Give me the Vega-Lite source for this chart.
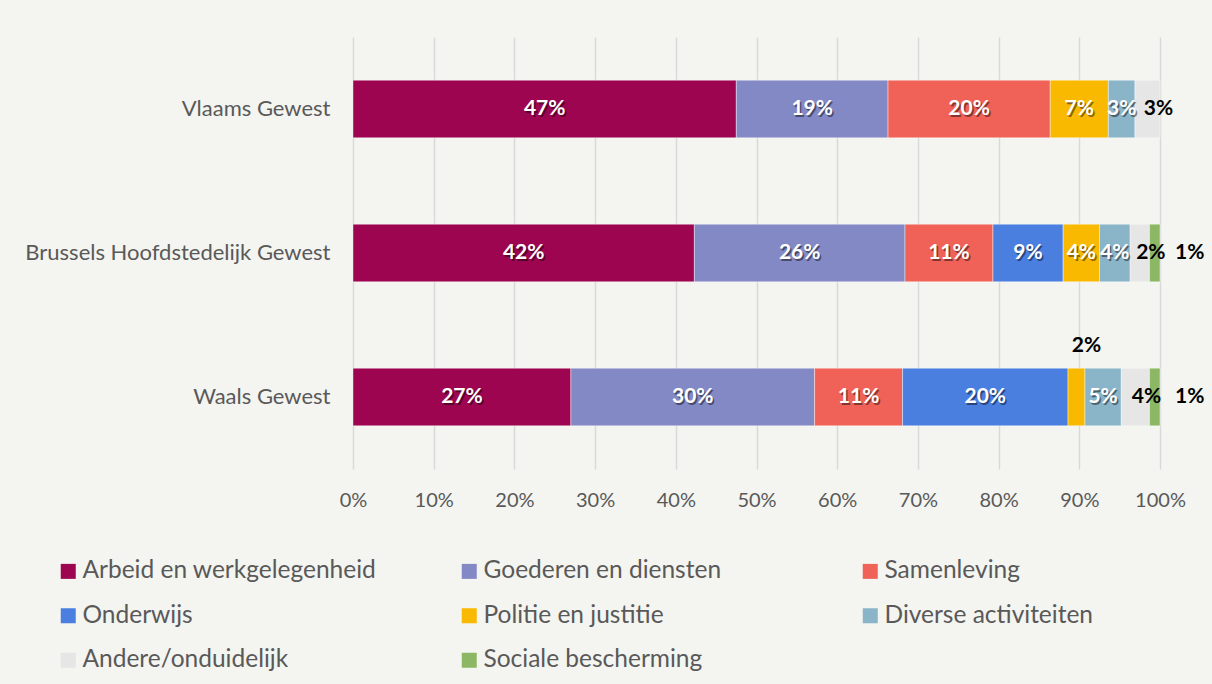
{
  "$schema": "https://vega.github.io/schema/vega-lite/v6.json",
  "width": 807,
  "height": 432,
  "autosize": {"type": "none"},
  "padding": {"left": 353, "top": 37, "right": 52, "bottom": 215},
  "background": "#f4f4f0",
  "config": {"view": {"stroke": null}, "font": "Lato"},
  "data": {
    "values": [
      {"region": "Vlaams Gewest", "cat": "Arbeid en werkgelegenheid", "k": 1, "value": 47.5, "label": "47%"},
      {"region": "Vlaams Gewest", "cat": "Goederen en diensten", "k": 2, "value": 18.8, "label": "19%"},
      {"region": "Vlaams Gewest", "cat": "Samenleving", "k": 3, "value": 20.1, "label": "20%"},
      {"region": "Vlaams Gewest", "cat": "Politie en justitie", "k": 5, "value": 7.2, "label": "7%"},
      {"region": "Vlaams Gewest", "cat": "Diverse activiteiten", "k": 6, "value": 3.3, "label": "3%"},
      {"region": "Vlaams Gewest", "cat": "Andere/onduidelijk", "k": 7, "value": 3.1, "label": "3%"},
      {"region": "Brussels Hoofdstedelijk Gewest", "cat": "Arbeid en werkgelegenheid", "k": 1, "value": 42.3, "label": "42%"},
      {"region": "Brussels Hoofdstedelijk Gewest", "cat": "Goederen en diensten", "k": 2, "value": 26.1, "label": "26%"},
      {"region": "Brussels Hoofdstedelijk Gewest", "cat": "Samenleving", "k": 3, "value": 10.9, "label": "11%"},
      {"region": "Brussels Hoofdstedelijk Gewest", "cat": "Onderwijs", "k": 4, "value": 8.7, "label": "9%"},
      {"region": "Brussels Hoofdstedelijk Gewest", "cat": "Politie en justitie", "k": 5, "value": 4.5, "label": "4%"},
      {"region": "Brussels Hoofdstedelijk Gewest", "cat": "Diverse activiteiten", "k": 6, "value": 3.8, "label": "4%"},
      {"region": "Brussels Hoofdstedelijk Gewest", "cat": "Andere/onduidelijk", "k": 7, "value": 2.4, "label": "2%"},
      {"region": "Brussels Hoofdstedelijk Gewest", "cat": "Sociale bescherming", "k": 8, "value": 1.3, "label": "1%"},
      {"region": "Waals Gewest", "cat": "Arbeid en werkgelegenheid", "k": 1, "value": 27.0, "label": "27%"},
      {"region": "Waals Gewest", "cat": "Goederen en diensten", "k": 2, "value": 30.2, "label": "30%"},
      {"region": "Waals Gewest", "cat": "Samenleving", "k": 3, "value": 10.9, "label": "11%"},
      {"region": "Waals Gewest", "cat": "Onderwijs", "k": 4, "value": 20.5, "label": "20%"},
      {"region": "Waals Gewest", "cat": "Politie en justitie", "k": 5, "value": 2.1, "label": "2%"},
      {"region": "Waals Gewest", "cat": "Diverse activiteiten", "k": 6, "value": 4.5, "label": "5%"},
      {"region": "Waals Gewest", "cat": "Andere/onduidelijk", "k": 7, "value": 3.5, "label": "4%"},
      {"region": "Waals Gewest", "cat": "Sociale bescherming", "k": 8, "value": 1.3, "label": "1%"}
    ]
  },
  "encoding": {
    "y": {
      "field": "region",
      "type": "nominal",
      "sort": ["Vlaams Gewest", "Brussels Hoofdstedelijk Gewest", "Waals Gewest"],
      "scale": {"paddingInner": 0.6, "paddingOuter": 0.3},
      "axis": {
        "title": null,
        "ticks": false,
        "domain": false,
        "labelFontSize": 22,
        "labelColor": "#595959",
        "labelPadding": 23,
        "labelLimit": 400
      }
    }
  },
  "layer": [
    {
      "mark": {"type": "bar", "stroke": "#ffffff", "strokeWidth": 0.6, "strokeOpacity": 0.7},
      "encoding": {
        "x": {
          "field": "value",
          "type": "quantitative",
          "stack": "zero",
          "scale": {"domain": [0, 100]},
          "axis": {
            "title": null,
            "values": [0, 10, 20, 30, 40, 50, 60, 70, 80, 90, 100],
            "labelExpr": "datum.value + '%'",
            "labelFlush": false,
            "labelOverlap": false,
            "grid": true,
            "gridColor": "#d9d9d9",
            "gridWidth": 1.5,
            "domain": false,
            "ticks": false,
            "labelFontSize": 20,
            "labelColor": "#595959",
            "labelPadding": 21
          }
        },
        "order": {"field": "k"},
        "color": {
          "field": "cat",
          "type": "nominal",
          "scale": {
            "domain": ["Arbeid en werkgelegenheid", "Goederen en diensten", "Samenleving", "Onderwijs", "Politie en justitie", "Diverse activiteiten", "Andere/onduidelijk", "Sociale bescherming"],
            "range": ["#9e0550", "#8289c4", "#f06257", "#4a7fe0", "#f9b900", "#8ab4c8", "#e6e6e6", "#8cb865"]
          },
          "legend": {
            "orient": "none",
            "direction": "horizontal",
            "legendX": -297,
            "legendY": 522,
            "padding": 0,
            "columns": 3,
            "gridAlign": "all",
            "columnPadding": 80,
            "rowPadding": 19.5,
            "title": null,
            "symbolType": "square",
            "symbolSize": 225,
            "symbolStrokeWidth": 0,
            "labelFontSize": 24.5,
            "labelColor": "#595959",
            "labelOffset": 2,
            "labelLimit": 400
          }
        }
      }
    },
    {
      "mark": {"type": "text", "fontSize": 21, "fontWeight": "bold", "color": "#000000", "opacity": 0.45, "dx": 1.5, "dy": 1.5, "baseline": "middle"},
      "encoding": {
        "x": {"field": "value", "type": "quantitative", "stack": "zero", "bandPosition": 0.5},
        "order": {"field": "k"},
        "detail": {"field": "cat"},
        "text": {
          "condition": {"test": "datum.cat !== 'Andere/onduidelijk' && datum.cat !== 'Sociale bescherming' && !(datum.region === 'Waals Gewest' && datum.cat === 'Politie en justitie')", "field": "label"},
          "value": ""
        }
      }
    },
    {
      "mark": {"type": "text", "fontSize": 21, "fontWeight": "bold", "color": "#ffffff", "baseline": "middle"},
      "encoding": {
        "x": {"field": "value", "type": "quantitative", "stack": "zero", "bandPosition": 0.5},
        "order": {"field": "k"},
        "detail": {"field": "cat"},
        "text": {
          "condition": {"test": "datum.cat !== 'Andere/onduidelijk' && datum.cat !== 'Sociale bescherming' && !(datum.region === 'Waals Gewest' && datum.cat === 'Politie en justitie')", "field": "label"},
          "value": ""
        }
      }
    },
    {
      "mark": {"type": "text", "fontSize": 21, "fontWeight": "bold", "color": "#000000", "baseline": "middle", "dx": 11},
      "encoding": {
        "x": {"field": "value", "type": "quantitative", "stack": "zero", "bandPosition": 0.5},
        "order": {"field": "k"},
        "detail": {"field": "cat"},
        "text": {
          "condition": {"test": "datum.cat === 'Andere/onduidelijk'", "field": "label"},
          "value": ""
        }
      }
    },
    {
      "mark": {"type": "text", "fontSize": 21, "fontWeight": "bold", "color": "#000000", "baseline": "middle", "dx": 35},
      "encoding": {
        "x": {"field": "value", "type": "quantitative", "stack": "zero", "bandPosition": 0.5},
        "order": {"field": "k"},
        "detail": {"field": "cat"},
        "text": {
          "condition": {"test": "datum.cat === 'Sociale bescherming'", "field": "label"},
          "value": ""
        }
      }
    },
    {
      "mark": {"type": "text", "fontSize": 21, "fontWeight": "bold", "color": "#000000", "baseline": "middle", "dx": 10, "dy": -51},
      "encoding": {
        "x": {"field": "value", "type": "quantitative", "stack": "zero", "bandPosition": 0.5},
        "order": {"field": "k"},
        "detail": {"field": "cat"},
        "text": {
          "condition": {"test": "datum.region === 'Waals Gewest' && datum.cat === 'Politie en justitie'", "field": "label"},
          "value": ""
        }
      }
    }
  ]
}
